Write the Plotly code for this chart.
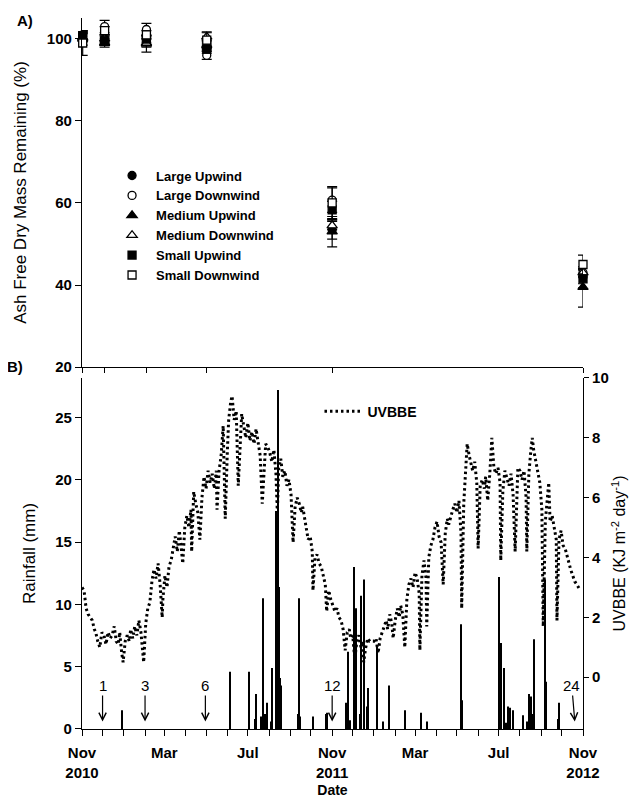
import pandas as pd
import plotly.graph_objects as go

START = "2010-11-01"
END = "2012-11-01"

# ---------------- Panel A: mass remaining ----------------
sample_dates = ["2010-11-02", "2010-12-04", "2011-02-03", "2011-05-02", "2011-11-01", "2012-11-01"]
series_names = ["Large Upwind", "Large Downwind", "Medium Upwind", "Medium Downwind", "Small Upwind", "Small Downwind"]
large_up = [101.0, 100.0, 99.5, 98.0, 53.5, 42.0]
large_up_err = [1.0, 1.0, 1.0, 1.0, 2.3, 1.7]
large_down = [100.5, 103.0, 102.3, 96.0, 60.7, 43.0]
large_down_err = [1.0, 1.5, 1.5, 1.0, 3.0, 1.0]
medium_up = [100.0, 99.0, 98.8, 98.5, 53.0, 39.5]
medium_up_err = [1.5, 1.0, 2.0, 1.0, 3.7, 4.9]
medium_down = [100.3, 100.0, 99.0, 100.5, 54.5, 43.0]
medium_down_err = [1.0, 1.0, 1.0, 1.0, 1.0, 1.0]
small_up = [100.8, 99.5, 100.0, 97.5, 58.3, 41.5]
small_up_err = [1.0, 1.0, 1.0, 1.0, 2.1, 2.2]
small_down = [99.0, 102.0, 101.0, 99.7, 60.0, 45.0]
small_down_err = [3.0, 1.0, 1.0, 2.0, 4.0, 2.3]

# ---------------- Panel B: rainfall and UVBBE ----------------
rain_day = [58, 216, 244, 252, 254, 261, 264, 267, 270, 276,
            277, 283, 285, 286, 287, 289, 290, 315, 317, 318,
            337, 356, 357, 385, 388, 391, 397, 400, 406, 407,
            411, 416, 417, 430, 439, 448, 471, 495, 503, 553,
            554, 608, 611, 616, 619, 622, 624, 629, 643, 649,
            652, 655, 658, 659, 676, 677, 694, 696]
rain_mm = [1.5, 4.6, 4.6, 0.8, 2.8, 1.0, 10.5, 1.2, 2.1, 0.6,
           4.9, 17.5, 14.2, 27.2, 11.4, 4.1, 3.5, 1.2, 10.5, 1.0,
           1.0, 1.2, 1.3, 2.1, 6.2, 0.7, 13.0, 9.7, 1.2, 10.7,
           12.0, 1.8, 3.3, 6.6, 0.6, 3.5, 1.5, 1.3, 0.6, 8.4,
           2.3, 12.2, 6.9, 4.9, 0.5, 1.8, 1.7, 1.5, 1.1, 0.6,
           2.8, 2.6, 1.2, 7.2, 12.0, 3.8, 0.8, 2.1]

uv_day = [0, 3, 6, 9, 12, 15, 18, 20, 23, 26,
          29, 32, 35, 38, 41, 44, 47, 50, 53, 55,
          58, 60, 63, 66, 69, 71, 74, 77, 80, 83,
          86, 89, 90, 93, 96, 99, 102, 105, 108, 111,
          114, 117, 118, 121, 124, 127, 130, 133, 136, 139,
          142, 144, 147, 150, 153, 156, 159, 160, 163, 166,
          169, 172, 175, 178, 181, 184, 187, 190, 193, 196,
          197, 200, 203, 206, 209, 212, 214, 217, 219, 222,
          225, 228, 231, 233, 236, 239, 242, 245, 248, 251,
          254, 257, 260, 263, 266, 268, 271, 274, 277, 280,
          283, 285, 287, 290, 293, 296, 299, 302, 305, 308,
          311, 314, 317, 320, 322, 325, 328, 330, 333, 336,
          337, 340, 343, 346, 349, 352, 355, 357, 360, 363,
          366, 369, 372, 375, 378, 381, 384, 387, 390, 392,
          395, 398, 401, 404, 407, 410, 411, 414, 417, 420,
          423, 426, 429, 432, 435, 438, 441, 444, 446, 449,
          452, 454, 457, 460, 463, 465, 468, 471, 474, 477,
          480, 483, 486, 489, 492, 493, 496, 499, 502, 503,
          506, 509, 512, 515, 518, 521, 524, 527, 530, 533,
          535, 538, 541, 544, 547, 550, 553, 554, 557, 560,
          562, 565, 568, 570, 573, 576, 578, 581, 584, 587,
          589, 592, 595, 598, 601, 604, 607, 610, 611, 614,
          617, 620, 623, 626, 629, 632, 635, 636, 639, 642,
          645, 648, 649, 652, 655, 657, 659, 662, 665, 668,
          671, 673, 676, 678, 681, 683, 686, 689, 692, 693,
          696, 699, 702, 705, 708, 711, 713, 716, 719, 722,
          725, 727]
uv_val = [3.0, 2.9, 2.3, 2.1, 2.0, 1.9, 1.6, 1.5, 1.2, 1.0,
          1.5, 1.4, 1.1, 1.5, 1.3, 1.4, 1.7, 1.2, 1.1, 1.5,
          0.8, 0.5, 1.2, 1.4, 1.2, 1.6, 1.3, 1.7, 1.4, 1.9,
          1.5, 0.9, 0.5, 1.8, 2.3, 2.5, 3.2, 3.6, 3.3, 3.8,
          3.1, 2.0, 2.6, 3.4, 3.0, 3.7, 3.9, 4.3, 4.7, 4.2,
          4.9, 4.5, 3.8, 5.0, 5.4, 5.0, 5.6, 4.2, 6.2, 5.8,
          5.5, 4.6, 6.0, 6.7, 6.3, 6.9, 6.5, 6.8, 6.3, 6.9,
          5.6, 6.9, 7.4, 8.4, 5.3, 7.5, 8.6, 9.2, 9.4, 8.6,
          8.9, 6.4, 8.2, 8.8, 8.4, 8.0, 8.5, 7.9, 8.2, 7.8,
          8.3, 7.9, 7.4, 5.8, 7.0, 7.8, 7.7, 7.5, 7.2, 7.6,
          6.8, 5.5, 7.0, 7.3, 6.7, 6.9, 6.4, 6.6, 6.1, 4.5,
          5.7, 6.0, 5.8, 5.5, 5.7, 5.3, 5.0, 4.6, 4.7, 4.2,
          2.9, 4.0, 4.1, 3.8, 3.7, 3.4, 3.1, 2.2, 2.9, 2.6,
          2.4, 2.2, 2.3, 2.0, 1.9, 1.6, 0.9, 1.5, 1.6, 1.3,
          1.4, 0.6, 1.2, 1.4, 1.0, 1.2, 0.5, 1.0, 1.3, 1.2,
          1.2, 1.2, 1.3, 0.8, 1.3, 1.5, 1.7, 1.9, 1.6, 2.1,
          1.8, 1.3, 1.9, 2.3, 2.0, 2.4, 2.1, 1.0, 2.6, 3.1,
          3.3, 3.0, 3.5, 3.3, 2.8, 0.9, 3.4, 3.9, 3.3, 1.7,
          4.0, 4.4, 4.6, 5.0, 5.2, 4.7, 4.5, 3.1, 4.8, 5.3,
          5.1, 5.4, 5.6, 5.8, 5.5, 5.9, 4.8, 2.3, 5.8, 7.0,
          7.8, 7.4, 7.1, 6.9, 7.2, 6.5, 4.3, 6.4, 6.6, 6.3,
          6.7, 5.9, 6.8, 8.0, 7.0, 6.8, 7.0, 6.5, 3.9, 6.2,
          6.9, 6.6, 6.4, 6.8, 6.1, 4.2, 6.2, 7.0, 6.9, 6.6,
          6.9, 6.0, 4.2, 6.8, 7.6, 8.0, 7.6, 7.2, 6.8, 6.5,
          5.6, 1.7, 5.2, 5.8, 6.5, 5.2, 5.4, 5.0, 4.6, 1.9,
          4.6, 4.9, 4.4, 4.3, 4.0, 3.8, 3.6, 3.4, 3.2, 3.1,
          3.0, 2.9]

# sampling-time arrows (label, day offset of arrow tip)
arrow_labels = ["1", "3", "6", "12", "24"]
arrow_day = [30, 92, 180, 365, 719]

x_tick_dates = ["2010-11-01", "2011-03-01", "2011-07-01", "2011-11-01", "2012-03-01", "2012-07-01", "2012-11-01"]
x_tick_text = ["Nov<br>2010", "Mar", "Jul", "Nov<br>2011", "Mar", "Jul", "Nov<br>2012"]

t0 = pd.Timestamp(START)
rain_dates = t0 + pd.to_timedelta(rain_day, unit="D")
uv_dates = t0 + pd.to_timedelta(uv_day, unit="D")
arrow_dates = t0 + pd.to_timedelta(arrow_day, unit="D")

FONT = "Liberation Sans, Arial, sans-serif"
fig = go.Figure()

series_vals = [large_up, large_down, medium_up, medium_down, small_up, small_down]
series_errs = [large_up_err, large_down_err, medium_up_err, medium_down_err, small_up_err, small_down_err]
symbols = ["circle", "circle", "triangle-up", "triangle-up", "square", "square"]
fills = ["black", "white", "black", "white", "black", "white"]
sizes = [8, 8, 9, 9, 8, 8]

for name, vals, errs, sym, fc, sz in zip(series_names, series_vals, series_errs, symbols, fills, sizes):
    fig.add_trace(go.Scatter(
        x=sample_dates, y=vals, mode="markers", name=name,
        marker=dict(symbol=sym, size=sz, color=fc, line=dict(color="black", width=1.3)),
        error_y=dict(type="data", array=errs, visible=True, color="black", thickness=1.2, width=5),
        cliponaxis=False, xaxis="x", yaxis="y", legend="legend",
    ))

fig.add_trace(go.Bar(
    x=rain_dates, y=rain_mm, width=1.6 * 86400000, marker=dict(color="black", line=dict(width=0)),
    xaxis="x2", yaxis="y2", showlegend=False, name="Rainfall",
))

fig.add_trace(go.Scatter(
    x=uv_dates, y=uv_val, mode="lines", name="UVBBE",
    line=dict(color="black", width=3, dash="2.5px,3px"),
    xaxis="x2", yaxis="y3", legend="legend2",
))

annotations = [
    dict(text="<b>A)</b>", xref="paper", yref="paper", x=-0.114, y=0.9958, xanchor="center", yanchor="middle",
         showarrow=False, font=dict(family=FONT, size=15, color="black")),
    dict(text="<b>B)</b>", xref="paper", yref="paper", x=-0.134, y=0.5105, xanchor="center", yanchor="middle",
         showarrow=False, font=dict(family=FONT, size=15, color="black")),
]
for lab, d in zip(arrow_labels, arrow_dates):
    annotations.append(dict(
        text=lab, x=d, y=0.6, xref="x2", yref="y2", showarrow=True,
        ax=-3 if lab == "24" else 0, ay=-36, arrowhead=5, arrowsize=1.2, arrowwidth=1.2,
        arrowcolor="black", font=dict(family=FONT, size=15, color="black"),
    ))

axis_common = dict(showgrid=False, zeroline=False, showline=True, linecolor="black", linewidth=1.2,
                   ticks="outside", tickcolor="black", tickwidth=1.2, automargin=False,
                   tickfont=dict(family=FONT, size=15, color="black", weight="bold"))

fig.update_layout(
    width=636, height=790,
    margin=dict(l=74, r=61, t=10, b=69),
    paper_bgcolor="white", plot_bgcolor="white",
    font=dict(family=FONT, color="black"),
    barmode="overlay",
    xaxis=dict(domain=[0, 1], anchor="y", type="date", range=[START, END],
               tickvals=sample_dates, showticklabels=False, ticklen=5, **axis_common),
    yaxis=dict(domain=[0.5091, 1.0], anchor="x", range=[20, 105.1], tickvals=[20, 40, 60, 80, 100],
               ticklen=6, title=dict(text="Ash Free Dry Mass Remaining (%)",
                                     font=dict(family=FONT, size=17, color="black")), **axis_common),
    xaxis2=dict(domain=[0, 1], anchor="y2", type="date", range=[START, END],
                tickvals=x_tick_dates, ticktext=x_tick_text, ticklen=6, ticklabelstandoff=4,
                minor=dict(dtick="M1", tick0=START, ticks="outside", ticklen=6, tickcolor="black", tickwidth=1.2),
                title=dict(text="<b>Date</b>", font=dict(family=FONT, size=14, color="black"), standoff=15),
                **axis_common),
    yaxis2=dict(domain=[0, 0.4937], anchor="x2", range=[0, 28.17], tickvals=[0, 5, 10, 15, 20, 25],
                ticklen=6, title=dict(text="Rainfall (mm)", font=dict(family=FONT, size=17, color="black")),
                **axis_common),
    yaxis3=dict(anchor="x2", overlaying="y2", side="right", range=[-1.73, 10.0],
                tickvals=[0, 2, 4, 6, 8, 10], ticklen=5,
                title=dict(text="UVBBE (KJ m<sup>-2</sup> day<sup>-1</sup>)", standoff=6,
                           font=dict(family=FONT, size=16, color="black")),
                **axis_common),
    legend=dict(x=0.052, y=0.7995, xanchor="left", yanchor="top", bgcolor="rgba(0,0,0,0)",
                font=dict(family=FONT, size=13, color="black", weight="bold"), itemwidth=38),
    legend2=dict(x=0.474, y=0.469, xanchor="left", yanchor="top", bgcolor="rgba(0,0,0,0)",
                 font=dict(family=FONT, size=14, color="black", weight="bold"), itemwidth=38),
    annotations=annotations,
)

fig.write_html("out.html")
